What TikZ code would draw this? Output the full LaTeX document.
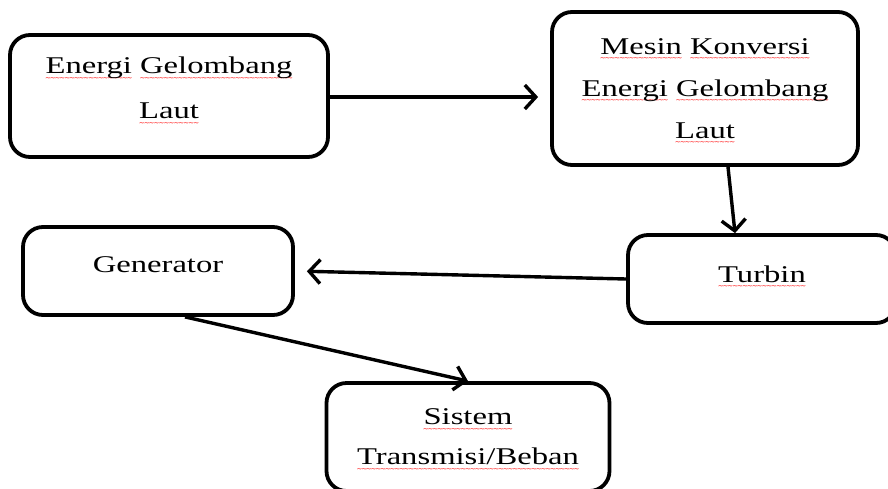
\documentclass[tikz,border=0pt]{standalone}
\usepackage{fontspec}
\setmainfont{Liberation Serif}[FakeStretch=1.36]
\newfontfamily\wavefont{DejaVu Sans}
\usetikzlibrary{arrows.meta}
\newcommand\redsq[1]{\setbox0\hbox{#1}\rlap{\raisebox{-6.5pt}[0pt][0pt]{\hbox to \wd0{\color{red}\fontsize{7pt}{7pt}\wavefont\xleaders\hbox{\kern-0.6pt\char"007E\kern-0.6pt}\hfil}}}\box0\relax}
\begin{document}
\begin{tikzpicture}[x=1pt,y=-1pt,
  box/.style={draw, line width=3.8pt, rounded corners=20pt, inner sep=0pt},
  lbl/.style={align=center, inner sep=0pt, font=\fontsize{24pt}{42pt}\selectfont},
  arr/.style={line width=3.4pt, -{Straight Barb[length=11pt,width=24pt]}}]
\useasboundingbox (0,0) rectangle (888,488);
\fill[white] (0,0) rectangle (888,488);
\node[box, minimum width=318pt, minimum height=122pt] (b1) at (169,96) {};
\node[box, minimum width=306pt, minimum height=153pt] (b2) at (705,88.5) {};
\node[box, minimum width=270pt, minimum height=88pt] (b3) at (158,271) {};
\node[box, minimum width=268pt, minimum height=88pt] (b4) at (762,279) {};
\node[box, minimum width=283pt, minimum height=108pt] (b5) at (468,437) {};
\node[lbl] (t1) at ([yshift=8pt]b1.center)
  {\redsq{Energi} \redsq{Gelombang}\\[3pt]\redsq{Laut}};
\node[lbl] (t2) at ([yshift=0pt]b2.center)
  {\redsq{Mesin} \redsq{Konversi}\\\redsq{Energi} \redsq{Gelombang}\\\redsq{Laut}};
\node[lbl] (t3) at ([yshift=6pt]b3.center) {Generator};
\node[lbl] (t4) at ([yshift=5pt]b4.center) {\redsq{Turbin}};
\node[lbl] (t5) at ([yshift=0pt]b5.center)
  {\redsq{Sistem}\\[-2pt]\redsq{Transmisi/Beban}};
\draw[arr, shorten >=12pt] (b1.east |- 0,97) -- (b2.west |- 0,97);
\draw[arr] ([xshift=23pt]b2.south) -- ([xshift=-27pt]b4.north);
\draw[arr, shorten >=12pt] (b4.west) -- (b3.east);
\draw[arr] ([xshift=27pt]b3.south) -- (b5.north);
\end{tikzpicture}
\end{document}
